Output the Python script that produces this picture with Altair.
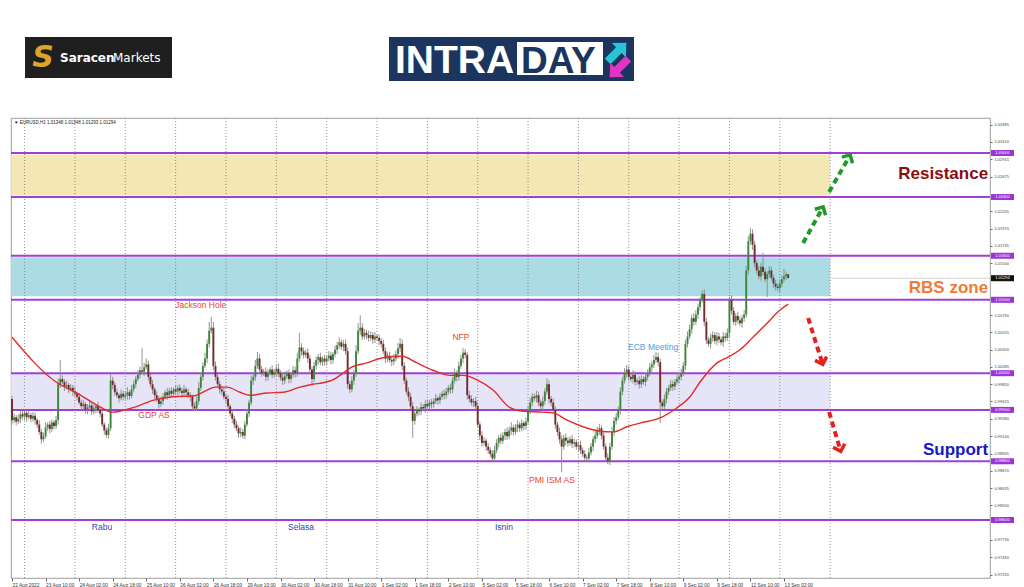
import altair as alt
import pandas as pd

# ---------------- data (prices in pips: price * 10000) ----------------
first_open = 9965
closes = [
    9936, 9940, 9934, 9938, 9944, 9941, 9946, 9940, 9943, 9938,
    9942, 9936, 9930, 9920, 9910, 9914, 9926, 9930, 9924, 9933,
    9928, 9936, 9985, 9992, 9988, 9982, 9984, 9978, 9980, 9975,
    9972, 9968, 9960, 9955, 9958, 9950, 9953, 9956, 9948, 9952,
    9955, 9950, 9945, 9930, 9922, 9916, 9925, 9990, 9984, 9974,
    9970, 9966, 9972, 9968, 9970, 9974, 9969, 9978, 9985, 9992,
    9998, 10004, 10002, 10008, 10012, 9995, 9985, 9978, 9970, 9965,
    9958, 9962, 9968, 9974, 9970, 9976, 9972, 9978, 9975, 9980,
    9976, 9973, 9978, 9974, 9970, 9968, 9955, 9952, 9962, 9980,
    9995, 10010, 10020, 10040, 10058, 10062, 10010, 9995, 9985, 9978,
    9975, 9968, 9965, 9955, 9945, 9938, 9930, 9925, 9918, 9920,
    9915, 9930, 9945, 9960, 9990, 9995, 10010, 10020, 10005, 10000,
    10002, 9995, 10000, 10005, 9998, 10002, 10006, 10000, 9994, 9990,
    9996, 10000, 9992, 9998, 10004, 10000, 10020, 10035, 10030, 10025,
    10028, 10020, 10005, 9992, 10010, 10018, 10022, 10015, 10020, 10016,
    10020, 10024, 10018, 10026, 10032, 10038, 10042, 10036, 10040, 10030,
    9985, 9978, 9990, 10000, 10030, 10058, 10062, 10050, 10055, 10052,
    10048, 10052, 10046, 10050, 10048, 10044, 10040, 10030, 10020, 10024,
    10018, 10016, 10020, 10026, 10034, 10040, 10010, 9990, 9975, 9968,
    9955, 9935, 9945, 9950, 9948, 9954, 9952, 9958, 9955, 9960,
    9958, 9962, 9966, 9963, 9968, 9972, 9970, 9975, 9980, 9978,
    9990, 10000, 9995, 10010, 10020, 10028, 10025, 9970, 9965, 9960,
    9962, 9955, 9930, 9915, 9905, 9908, 9900, 9895, 9890, 9884,
    9895, 9905, 9912, 9908, 9915, 9920, 9914, 9922, 9926, 9920,
    9926, 9930, 9925, 9932, 9928, 9934, 9950, 9960, 9968, 9966,
    9970, 9960, 9955, 9962, 9975, 9985, 9965, 9960, 9950, 9930,
    9920, 9910, 9900, 9912, 9908, 9905, 9910, 9904, 9906, 9900,
    9902, 9895, 9890, 9885, 9884, 9892, 9900, 9910, 9915, 9922,
    9925, 9915, 9900, 9885, 9880, 9900, 9920, 9935, 9940, 9950,
    9975, 9990, 10000, 10005, 9995, 9992, 9998, 9988, 9990, 9985,
    9992, 9988, 9995, 10000, 10008, 10012, 10018, 10022, 10015, 9960,
    9955, 9965, 9975, 9980, 9985, 9982, 9988, 9992, 9995, 10000,
    10010, 10040, 10050, 10060, 10075, 10070, 10080, 10090, 10100, 10108,
    10070, 10045, 10040, 10048, 10052, 10044, 10050, 10046, 10042, 10050,
    10048, 10055, 10100, 10085, 10070, 10078, 10072, 10068, 10075, 10080,
    10140, 10180, 10190, 10175, 10150, 10140, 10132, 10145, 10138, 10128,
    10135, 10140, 10130, 10122, 10118, 10116, 10122, 10128, 10132, 10134.8,
    10129.4,
]
upper_wicks = [
    4, 5, 3, 6, 4, 5, 3, 4, 6, 3,
    5, 4, 3, 6, 4, 5, 7, 3, 5, 4,
    3, 6, 8, 26, 5, 4, 6, 3, 5, 4,
    6, 3, 5, 4, 6, 3, 5, 7, 4, 5,
    3, 6, 4, 5, 3, 4, 6, 10, 5, 4,
    5, 3, 6, 4, 5, 7, 3, 6, 5, 4,
    6, 5, 30, 6, 8, 5, 4, 6, 3, 5,
    4, 6, 5, 3, 6, 4, 5, 3, 6, 4,
    5, 4, 6, 3, 5, 4, 3, 5, 6, 8,
    6, 5, 8, 6, 12, 15, 8, 6, 5, 4,
    5, 6, 4, 5, 3, 6, 4, 5, 3, 6,
    4, 5, 6, 4, 7, 5, 8, 9, 6, 5,
    4, 6, 5, 3, 6, 4, 5, 7, 4, 5,
    6, 4, 5, 3, 6, 5, 8, 20, 6, 5,
    4, 6, 5, 4, 6, 5, 4, 6, 3, 5,
    4, 6, 5, 3, 6, 5, 7, 4, 5, 6,
    5, 4, 6, 5, 8, 10, 17, 6, 5, 4,
    6, 5, 4, 6, 3, 5, 4, 6, 5, 4,
    5, 4, 6, 5, 7, 8, 6, 5, 4, 6,
    5, 6, 4, 5, 3, 6, 4, 5, 6, 4,
    5, 4, 6, 3, 5, 4, 6, 5, 4, 6,
    5, 6, 4, 6, 5, 6, 5, 4, 6, 5,
    4, 6, 5, 4, 6, 5, 3, 5, 4, 5,
    6, 5, 4, 6, 5, 4, 6, 5, 7, 4,
    5, 6, 4, 5, 3, 6, 5, 6, 5, 4,
    6, 5, 4, 6, 5, 8, 5, 4, 6, 5,
    4, 6, 5, 4, 6, 5, 4, 6, 5, 4,
    5, 6, 4, 5, 4, 6, 5, 4, 6, 5,
    6, 4, 5, 4, 6, 5, 7, 5, 6, 5,
    6, 5, 7, 6, 5, 4, 6, 5, 4, 6,
    5, 4, 6, 5, 6, 5, 7, 7, 6, 5,
    4, 6, 5, 4, 6, 5, 4, 6, 5, 6,
    5, 6, 7, 6, 5, 7, 6, 5, 4, 5,
    6, 5, 4, 6, 5, 4, 6, 5, 4, 6,
    5, 6, 4, 6, 5, 4, 6, 5, 4, 6,
    6, 7, 8, 6, 5, 4, 6, 5, 19, 5,
    4, 6, 5, 4, 5, 4, 6, 5, 10, 4,
    0,
]
lower_wicks = [
    6, 4, 5, 3, 6, 4, 5, 6, 3, 5,
    4, 6, 5, 4, 6, 4, 3, 5, 6, 4,
    5, 4, 6, 5, 3, 6, 4, 5, 3, 6,
    4, 5, 3, 6, 4, 5, 6, 3, 5, 4,
    6, 4, 5, 3, 6, 4, 5, 4, 6, 5,
    4, 6, 3, 5, 4, 6, 5, 3, 4, 5,
    3, 5, 4, 6, 3, 5, 4, 6, 5, 4,
    6, 4, 5, 3, 6, 4, 5, 3, 4, 5,
    4, 6, 3, 5, 4, 6, 5, 4, 3, 5,
    4, 5, 3, 6, 5, 4, 6, 5, 4, 6,
    5, 4, 6, 5, 4, 6, 5, 4, 6, 5,
    4, 5, 3, 5, 4, 6, 5, 4, 6, 5,
    4, 6, 5, 3, 5, 4, 6, 5, 4, 6,
    5, 4, 6, 5, 4, 6, 5, 4, 6, 5,
    4, 6, 5, 7, 4, 5, 6, 4, 5, 6,
    5, 4, 6, 5, 4, 6, 5, 4, 6, 5,
    6, 5, 4, 6, 5, 4, 6, 5, 4, 6,
    5, 4, 6, 5, 4, 6, 5, 4, 6, 5,
    4, 6, 5, 4, 6, 5, 6, 5, 4, 6,
    5, 23, 5, 4, 6, 5, 4, 6, 5, 4,
    6, 5, 4, 6, 5, 4, 6, 5, 4, 6,
    5, 4, 6, 5, 4, 6, 5, 6, 5, 4,
    6, 5, 4, 6, 5, 4, 6, 5, 4, 4,
    5, 4, 6, 5, 4, 6, 5, 4, 6, 5,
    4, 6, 5, 4, 6, 5, 4, 6, 5, 4,
    6, 5, 4, 6, 5, 4, 6, 5, 4, 6,
    5, 6, 35, 4, 6, 5, 4, 6, 5, 4,
    6, 5, 4, 5, 4, 5, 4, 6, 5, 4,
    6, 5, 4, 6, 4, 5, 4, 6, 5, 4,
    6, 5, 4, 6, 5, 4, 6, 5, 4, 6,
    5, 4, 6, 5, 4, 6, 5, 4, 6, 28,
    5, 4, 6, 5, 4, 6, 5, 4, 6, 5,
    4, 6, 5, 4, 6, 5, 4, 6, 5, 4,
    6, 5, 4, 6, 5, 4, 6, 5, 4, 6,
    5, 4, 6, 5, 4, 6, 5, 4, 6, 5,
    4, 6, 5, 7, 6, 5, 4, 6, 5, 4,
    24, 5, 4, 6, 5, 4, 6, 5, 4, 5,
    0.1,
]

# moving average (bar index, pips)
ma_idx = [0, 21.5, 31, 42, 47.7, 57.7, 67.2, 76.8, 86.3, 93, 96.8, 102.5, 108.7,
          113.5, 121.6, 129.2, 137.3, 143.5, 148.3, 153, 157.8, 161.1, 169.2, 176.9,
          185.9, 193.1, 200.7, 208.8, 215, 221.7, 229.3, 237.4, 243.6, 253.1, 257.9,
          264.6, 272.2, 280.3, 286.5, 293.2, 299.4, 308.9, 317, 323.2, 328, 336.1,
          341.3, 347, 353.2, 359.9, 366.1, 370]
ma_val = [10049, 9987, 9973, 9954, 9947, 9953, 9963, 9968, 9969, 9977, 9981, 9981,
          9974, 9970, 9973, 9974, 9981, 9985, 9987, 9991, 10000, 10007, 10014, 10021,
          10023, 10014, 10004, 9997, 9997, 9991, 9977, 9953, 9948, 9947, 9946, 9936,
          9927, 9921, 9920, 9927, 9932, 9939, 9953, 9968, 9988, 10014, 10022, 10032,
          10049, 10068, 10086, 10094]

day_lines = [6 + 24 * k for k in range(17)]
x_tick_idx = [16 * j for j in range(24)]
x_labels = ["22 Aug 2022", "23 Aug 10:00", "24 Aug 02:00", "24 Aug 18:00", "25 Aug 10:00",
            "26 Aug 02:00", "26 Aug 18:00", "29 Aug 10:00", "30 Aug 02:00", "30 Aug 18:00",
            "31 Aug 10:00", "1 Sep 02:00", "1 Sep 18:00", "2 Sep 10:00", "5 Sep 02:00",
            "5 Sep 18:00", "6 Sep 10:00", "7 Sep 02:00", "7 Sep 18:00", "8 Sep 10:00",
            "9 Sep 02:00", "9 Sep 18:00", "12 Sep 10:00", "13 Sep 02:00"]
# price-scale labels that are visible (those hidden behind the level boxes are left out)
y_ticks = [1.03385, 1.03150, 1.02915, 1.02675, 1.02205, 1.01970, 1.01735,
           1.01500, 1.00790, 1.00555, 1.00320, 1.00085, 0.99850,
           0.99615, 0.99380, 0.99140, 0.98905, 0.98670, 0.98435, 0.98200,
           0.97730, 0.97490, 0.97255]

levels = [1.03000, 1.02400, 1.01600, 1.01000, 1.00000, 0.99500, 0.98800, 0.98000]
last_price = 1.01294

zone_lo = [1.0242, 1.0105, 0.9950]
zone_hi = [1.0298, 1.0158, 1.0000]
zone_col = ["#f3e7b4", "#acdce3", "#e5e5f7"]
zone_end = 390

ann_text = ["Jackson Hole", "GDP AS", "NFP", "PMI ISM AS", "ECB Meeting", "Rabu", "Selasa", "Isnin"]
ann_idx = [90, 67.7, 214, 257.4, 305.6, 42.9, 137.8, 234.5]
ann_price = [1.00929, 0.99430, 1.00493, 0.98545, 1.00357, 0.97905, 0.97905, 0.97905]
ann_col = ["#e8433a", "#e8433a", "#e8433a", "#e8433a", "#4a9ee0", "#3340c0", "#3340c0", "#3340c0"]

big_text = ["Resistance", "RBS zone", "Support"]
big_price = [1.02714, 1.01161, 0.98954]
big_col = ["#8b0d0d", "#f27a35", "#1717c4"]

arrow_id = ["g1", "g1", "g2", "g2", "r1", "r1", "r2", "r2"]
arrow_idx = [377.1, 386.1, 389.5, 399.0, 379.5, 386.1, 389.5, 394.7]
arrow_price = [1.01774, 1.02237, 1.02469, 1.02945, 1.00752, 1.00153, 0.99471, 0.98967]
arrow_col = ["#1f9a2a"] * 4 + ["#e3211f"] * 4
head_angle = [29, 30, 162, 163]

# ---------------- frames ----------------
n = len(closes)
opens = [first_open] + closes[:-1]
highs = [max(o, c) + u for o, c, u in zip(opens, closes, upper_wicks)]
lows = [min(o, c) - d for o, c, d in zip(opens, closes, lower_wicks)]
cd = pd.DataFrame({
    "idx": list(range(n)),
    "o": [v / 10000 for v in opens],
    "c": [v / 10000 for v in closes],
    "h": [v / 10000 for v in highs],
    "l": [v / 10000 for v in lows],
    "col": ["#3c873c" if c >= o else "#742a2a" for o, c in zip(opens, closes)],
})
ma = pd.DataFrame({"idx": ma_idx, "p": [v / 10000 for v in ma_val]})
zones = pd.DataFrame({"idx": [-0.4] * 3, "x1": [zone_end] * 3, "p": zone_lo, "hi": zone_hi, "col": zone_col})
days = pd.DataFrame({"idx": day_lines})
lv = pd.DataFrame({"p": levels, "t": [f"{v:.5f}" for v in levels]})
ann = pd.DataFrame({"idx": ann_idx, "p": ann_price, "t": ann_text, "col": ann_col})
big = pd.DataFrame({"idx": [465.3] * 3, "p": big_price, "t": big_text, "col": big_col})
arr = pd.DataFrame({"a": arrow_id, "idx": arrow_idx, "p": arrow_price, "col": arrow_col})
heads = arr.iloc[1::2].copy()
heads["ang"] = head_angle
lastdf = pd.DataFrame({"p": [last_price], "t": [f"{last_price:.5f}"]})
one = pd.DataFrame({"k": [0]})

W, H = 979, 460
xs = alt.Scale(domain=[-0.477, 466.2], nice=False, zero=False)
ys = alt.Scale(domain=[0.972098, 1.034768], nice=False, zero=False)

label_expr = "[" + ",".join(f"'{s}'" for s in x_labels) + "][round(datum.value / 16)]"
x_axis = alt.Axis(values=x_tick_idx, labelExpr=label_expr, labelAlign="left", labelBaseline="top",
                  labelFontSize=4.8, labelFont="Liberation Sans", labelColor="#333", labelPadding=1,
                  tickSize=3, tickColor="#666", domain=False, grid=False, labelOverlap=False,
                  labelFlush=False, labelBound=False, title=None)
y_axis = alt.Axis(orient="right", values=y_ticks, format=".5f", labelFontSize=4,
                  labelFont="Liberation Sans", labelColor="#444", labelPadding=2, tickSize=2,
                  tickColor="#666", domain=False, grid=False, labelOverlap=False,
                  labelFlush=False, title=None)


def X(f):
    return alt.X(f, scale=xs, axis=x_axis, title=None)


def Y(f):
    return alt.Y(f, scale=ys, axis=y_axis, title=None)


bid = alt.Chart(lastdf).mark_rule(color="#c8c8c8", strokeWidth=0.8).encode(y=Y("p:Q"))
zone_l = alt.Chart(zones).mark_rect().encode(x=X("idx:Q"), x2="x1:Q", y=Y("p:Q"), y2="hi:Q",
                                            color=alt.Color("col:N", scale=None))
grid_l = alt.Chart(days).mark_rule(color="#777", strokeWidth=0.8, strokeDash=[1, 2]).encode(x=X("idx:Q"))
lvl_l = alt.Chart(lv).mark_rule(color="#a03fd8", strokeWidth=2).encode(y=Y("p:Q"))
wick_l = alt.Chart(cd).mark_rule(color="#888888", strokeWidth=0.9).encode(
    x=X("idx:Q"), y=Y("l:Q"), y2="h:Q")
body_l = alt.Chart(cd).mark_rule(strokeWidth=1.9).encode(
    x=X("idx:Q"), y=Y("o:Q"), y2="c:Q", color=alt.Color("col:N", scale=None))
ma_l = alt.Chart(ma).mark_line(color="#e52a2a", strokeWidth=1.4, interpolate="monotone").encode(
    x=X("idx:Q"), y=Y("p:Q"))
ann_l = alt.Chart(ann).mark_text(fontSize=8.5, font="Liberation Sans", align="center",
                                 baseline="middle").encode(
    x=X("idx:Q"), y=Y("p:Q"), text="t:N", color=alt.Color("col:N", scale=None))
big_l = alt.Chart(big).mark_text(fontSize=17, font="Liberation Sans", fontWeight="bold",
                                 align="right", baseline="middle").encode(
    x=X("idx:Q"), y=Y("p:Q"), text="t:N", color=alt.Color("col:N", scale=None))
arr_l = alt.Chart(arr).mark_line(strokeWidth=4, strokeDash=[6, 4]).encode(
    x=X("idx:Q"), y=Y("p:Q"), detail="a:N", color=alt.Color("col:N", scale=None))
head_l = alt.Chart(heads).mark_point(shape="M-1,0.6L0,-0.4L1,0.6", filled=False, strokeWidth=3.5,
                                     size=150, opacity=1).encode(
    x=X("idx:Q"), y=Y("p:Q"), angle=alt.Angle("ang:Q", scale=None),
    color=alt.Color("col:N", scale=None))

box_l = alt.Chart(lv).mark_rule(color="#9b35d6", strokeWidth=6).encode(
    x=alt.value(980), x2=alt.value(1003), y=Y("p:Q"))
boxt_l = alt.Chart(lv).mark_text(fontSize=4, font="Liberation Sans", color="white",
                                 align="center", baseline="middle").encode(
    x=alt.value(991.5), y=Y("p:Q"), text="t:N")
lbox_l = alt.Chart(lastdf).mark_rule(color="#111", strokeWidth=6).encode(
    x=alt.value(980), x2=alt.value(1003), y=Y("p:Q"))
lboxt_l = alt.Chart(lastdf).mark_text(fontSize=4, font="Liberation Sans", color="white",
                                      align="center", baseline="middle").encode(
    x=alt.value(991.5), y=Y("p:Q"), text="t:N")
header_l = alt.Chart(one).mark_text(text="▼ EURUSD,H1  1.01348 1.01348 1.01293 1.01294",
                                    fontSize=4.5, font="Liberation Sans", color="#222",
                                    align="left", baseline="middle").encode(
    x=alt.value(3), y=alt.value(4.5))


def prect(x0, x1, y0, y1, color):
    return alt.Chart(one).mark_rect(color=color).encode(
        x=alt.value(x0), x2=alt.value(x1), y=alt.value(y0), y2=alt.value(y1))


def ptext(t, x, y, size, color, weight="normal", align="left", baseline="alphabetic",
          font="Liberation Sans", style="normal"):
    return alt.Chart(one).mark_text(text=t, fontSize=size, color=color, fontWeight=weight,
                                    align=align, baseline=baseline, font=font,
                                    fontStyle=style).encode(x=alt.value(x), y=alt.value(y))


def parrow(x, y, ang, color):
    return alt.Chart(one).mark_point(
        shape="M-1,-0.3L0.2,-0.3L0.2,-0.75L1,0L0.2,0.75L0.2,0.3L-1,0.3Z", filled=True,
        size=700, opacity=1, color=color, angle=ang).encode(x=alt.value(x), y=alt.value(y))


navy = "#1b355f"
logos = [
    prect(14, 161, -81, -40, "#1f1f1f"),
    ptext("S", 32, -60, 30, "#dba52c", "bold", "center", "middle", "DejaVu Sans", "italic"),
    ptext("Saracen", 49, -56, 12, "white", "bold", font="DejaVu Sans"),
    ptext("Markets", 102, -56, 12, "white", "normal", font="DejaVu Sans"),
    prect(378, 623, -81, -37, navy),
    prect(506, 592, -76, -43, "white"),
    ptext("INTRA", 384, -45, 39, "white", "bold"),
    ptext("DAY", 510, -45, 37, navy, "bold"),
    parrow(606, -66, 315, "#27c6d6"),
    parrow(608, -50, 135, "#e431c6"),
]

chart = alt.layer(
    bid, zone_l, grid_l, lvl_l, wick_l, body_l, ma_l, ann_l, big_l, arr_l, head_l,
    box_l, boxt_l, lbox_l, lboxt_l, header_l, *logos
).properties(
    width=W, height=H,
    padding={"left": 3, "top": 110, "right": 26, "bottom": 10},
    autosize=alt.AutoSizeParams(type="none"),
    background="white",
).configure_view(stroke="#888", strokeWidth=0.8)

chart.save("out.html", embed_options={"renderer": "svg", "actions": False})
